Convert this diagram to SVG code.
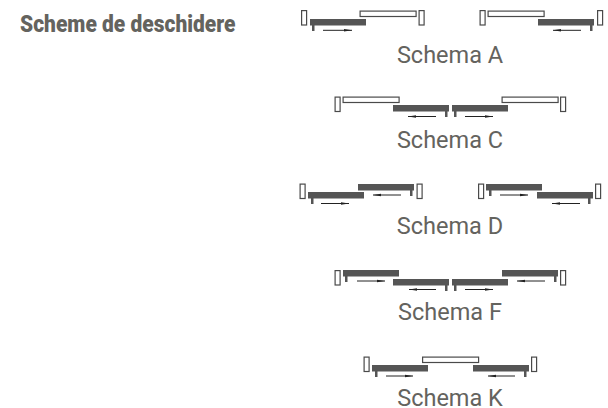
<svg xmlns="http://www.w3.org/2000/svg" width="608" height="408" viewBox="0 0 608 408">
<style>
.t{font-family:Roboto,"Liberation Sans",sans-serif;fill:#64635e}
.l{font-size:23.5px;text-anchor:middle}
.h{font-size:23px;font-weight:900}
.w{fill:#fff;stroke:#4a4a4a;stroke-width:1.2}
.d{fill:#555}
.a{fill:none;stroke:#222;stroke-width:1}
</style>
<defs>
<marker id="ah" markerUnits="userSpaceOnUse" markerWidth="8" markerHeight="4" refX="8" refY="2" orient="auto-start-reverse"><path d="M0 .8L8 2L0 3.2Z" fill="#222"/></marker>
<g id="post"><rect class="w" x=".6" y=".6" width="5" height="14.400"/></g>
<g id="open"><rect class="w" x=".6" y=".6" width="56" height="5.4"/></g>
<g id="leaf"><rect class="d" width="56" height="6.500"/></g>
<g id="stem"><rect class="d" width="2.500" height="6"/></g>
</defs>
<text class="t h" x="20" y="32" textLength="215.500" lengthAdjust="spacingAndGlyphs">Scheme de deschidere</text>
<g id="schema-a">
<use href="#post" x="301" y="10"/><use href="#open" x="359.5" y="10.5"/><use href="#leaf" x="310" y="19"/><use href="#stem" x="312" y="25"/>
<use href="#post" x="418.5" y="10"/><use href="#post" x="479.5" y="10"/><use href="#open" x="487.5" y="10.5"/><use href="#leaf" x="538" y="19"/><use href="#stem" x="590" y="25"/><use href="#post" x="597" y="10"/>
<text class="t l" x="450" y="63">Schema A</text>
</g>
<g id="schema-c">
<use href="#post" x="334.5" y="96.5"/><use href="#open" x="342.5" y="96.5"/><use href="#leaf" x="393" y="105"/><use href="#stem" x="445" y="111"/>
<use href="#leaf" x="452" y="105"/><use href="#stem" x="454" y="111"/><use href="#open" x="501.5" y="96.5"/><use href="#post" x="560" y="96.5"/>
<text class="t l" x="450" y="148">Schema C</text>
</g>
<g id="schema-d">
<use href="#post" x="299.5" y="183.5"/><use href="#leaf" x="308" y="192"/><use href="#stem" x="311" y="198"/><use href="#leaf" x="358" y="184"/><use href="#stem" x="410" y="190"/><use href="#post" x="416.5" y="183.5"/>
<use href="#post" x="478" y="183.5"/><use href="#leaf" x="486" y="184"/><use href="#stem" x="489" y="190"/><use href="#leaf" x="537" y="192"/><use href="#stem" x="588" y="198"/><use href="#post" x="595" y="183.5"/>
<text class="t l" x="450" y="234">Schema D</text>
</g>
<g id="schema-f">
<use href="#post" x="334.5" y="270"/><use href="#leaf" x="343" y="270"/><use href="#stem" x="345" y="276"/><use href="#leaf" x="393" y="279"/><use href="#stem" x="445" y="285"/>
<use href="#leaf" x="452" y="279"/><use href="#stem" x="454" y="285"/><use href="#leaf" x="502" y="270"/><use href="#stem" x="554" y="276"/><use href="#post" x="560" y="270"/>
<text class="t l" x="450" y="320">Schema F</text>
</g>
<g id="schema-k">
<use href="#post" x="363.5" y="356.5"/><use href="#leaf" x="372" y="365"/><use href="#stem" x="375" y="371"/><use href="#open" x="422" y="356.5"/><use href="#leaf" x="473" y="365"/><use href="#stem" x="524" y="371"/><use href="#post" x="531" y="356.5"/>
<text class="t l" x="450" y="405.500">Schema K</text>
</g>
<g id="connectors" class="a" marker-end="url(#ah)">
<path d="M323 30.300H352"/><path d="M581 30.300H553"/>
<path d="M436 116.500H408"/><path d="M465 116.500H493"/>
<path d="M321 203.500H349"/><path d="M401 195H373"/><path d="M500 195H528"/><path d="M580 203.500H552"/>
<path d="M357 281H385"/><path d="M436 289.500H409"/><path d="M465 289.500H493"/><path d="M545 281H517"/>
<path d="M386 376H413"/><path d="M515 376H488"/>
</g>
</svg>
